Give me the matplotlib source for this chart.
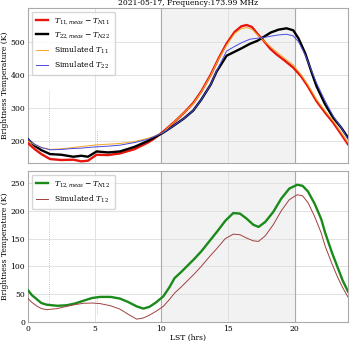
import numpy as np
import matplotlib.pyplot as plt

# top panel: LST (hrs) and brightness temperatures
lst_t11 = [0, 0.5, 1.0, 1.65, 2.5, 3.4, 4.0, 4.5, 5.15, 6.0, 6.9, 8.0, 9.0, 9.4, 10.15, 11.0, 11.7, 12.4, 13.0, 13.7, 14.3, 14.9, 15.5, 16.0, 16.4, 16.8, 17.2, 17.65, 18.2, 18.65, 19.2, 19.9, 20.5, 21.0, 21.65, 22.3, 22.9, 23.5, 24.0]
t11_meas = [193, 175, 160, 145, 142, 143, 138, 140, 158, 157, 162, 175, 195, 205, 228, 258, 285, 315, 350, 400, 450, 495, 530, 547, 551, 545, 525, 505, 478, 462, 445, 422, 395, 365, 320, 285, 255, 220, 190]
t11_sim = [200, 188, 180, 174, 176, 180, 183, 185, 188, 190, 192, 198, 208, 213, 226, 258, 285, 313, 348, 398, 448, 490, 525, 540, 543, 538, 522, 505, 485, 470, 452, 430, 400, 370, 325, 290, 260, 225, 195]

lst_t22 = [0, 0.5, 1.0, 1.65, 2.5, 3.4, 4.0, 4.5, 5.15, 6.0, 6.9, 8.0, 9.0, 10.15, 11.0, 11.7, 12.4, 13.0, 13.7, 14.15, 14.9, 15.5, 16.0, 16.65, 17.2, 17.65, 18.2, 18.8, 19.4, 19.9, 20.3, 20.8, 21.3, 21.65, 22.3, 22.9, 23.5, 24.0]
t22_meas = [205, 185, 172, 160, 158, 152, 155, 152, 168, 165, 168, 182, 200, 225, 248, 268, 292, 325, 370, 410, 458, 470, 480, 494, 503, 514, 528, 537, 541, 535, 510, 465, 405, 365, 310, 270, 240, 210]
t22_sim = [205, 190, 180, 173, 174, 177, 178, 180, 182, 184, 187, 195, 205, 225, 248, 268, 292, 325, 370, 412, 472, 486, 497, 508, 511, 513, 517, 521, 523, 518, 500, 460, 410, 375, 320, 275, 240, 205]

# bottom panel
lst_t12 = [0, 0.3, 0.7, 1.0, 1.4, 2.2, 2.9, 3.5, 4.15, 4.8, 5.4, 6.2, 6.9, 7.5, 8.15, 8.65, 9.1, 9.6, 10.15, 10.6, 11.0, 11.5, 12.0, 12.5, 13.0, 13.6, 14.2, 14.8, 15.4, 15.9, 16.4, 16.9, 17.3, 17.8, 18.4, 19.0, 19.6, 20.2, 20.6, 21.0, 21.5, 22.0, 22.3, 22.8, 23.2, 23.6, 24.0]
t12_meas = [57, 48, 40, 34, 31, 29, 30, 33, 38, 43, 45, 45, 42, 36, 28, 24, 27, 35, 46, 62, 79, 90, 102, 114, 127, 145, 163, 182, 196, 195, 186, 175, 171, 180, 198, 222, 240, 247, 245, 235, 213, 185, 160, 125, 100, 75, 55]
t12_sim = [42, 35, 28, 24, 22, 24, 28, 31, 33.5, 34, 33, 29, 23, 14, 5, 7, 12, 19, 28, 40, 52, 63, 75, 87, 100, 117, 133, 150, 158, 157, 151, 146, 145, 155, 175, 200, 220, 229, 227, 215, 190, 160, 136, 105, 82, 62, 45]

# RFI spikes: (LST, low, high)
spikes_top = [(1.6, 150, 355), (5.2, 165, 235)]
spikes_bot = [(1.6, 30, 212), (5.2, 15, 45)]

plt.rcParams['font.family'] = 'DejaVu Serif'
plt.rcParams['mathtext.fontset'] = 'dejavuserif'
plt.rcParams['font.size'] = 5.5

fig = plt.figure(figsize=(3.5, 3.41), dpi=100)
ax1 = fig.add_axes([0.08, 0.522, 0.914, 0.455])
ax2 = fig.add_axes([0.08, 0.056, 0.914, 0.443])

for ax in (ax1, ax2):
    ax.axvspan(10, 20, color='#f2f2f2', zorder=0)
    ax.axvline(10, color='#aaaaaa', lw=0.8, zorder=1)
    ax.axvline(20, color='#aaaaaa', lw=0.8, zorder=1)
    ax.grid(color='#dddddd', lw=0.6)
    ax.set_axisbelow(True)
    ax.set_xlim(0, 24)
    ax.set_xticks([0, 5, 10, 15, 20])
    for s in ax.spines.values():
        s.set_color('#aaaaaa')
        s.set_linewidth(0.8)
    ax.tick_params(length=0, pad=2, labelsize=5.5)

for x, lo, hi in spikes_top:
    ax1.vlines(x, lo, hi, color='#999999', lw=0.5, linestyles=(0, (1, 2)), zorder=2)
ax1.plot(lst_t11, t11_meas, color='#e8150f', lw=1.7, label=r'$T_{11,meas}-T_{N11}$', zorder=3)
ax1.plot(lst_t22, t22_meas, color='black', lw=1.7, label=r'$T_{22,meas}-T_{N22}$', zorder=3)
ax1.plot(lst_t11, t11_sim, color='#f5a623', lw=0.7, label=r'Simulated $T_{11}$', zorder=4)
ax1.plot(lst_t22, t22_sim, color='#4a4ae0', lw=0.7, label=r'Simulated $T_{22}$', zorder=4)
ax1.set_ylim(133, 603)
ax1.set_yticks([200, 300, 400, 500])
ax1.tick_params(labelbottom=False)
ax1.set_ylabel('Brightness Temperature (K)', fontsize=5.5, labelpad=1)
ax1.set_title('2021-05-17, Frequency:173.99 MHz', fontsize=5.5, pad=2)
ax1.legend(loc='upper left', fontsize=5.5, frameon=True, handlelength=1.5, borderpad=0.6, labelspacing=0.5)

for x, lo, hi in spikes_bot:
    ax2.vlines(x, lo, hi, color='#66bb66', lw=0.5, linestyles=(0, (1, 2)), zorder=2)
ax2.plot(lst_t12, t12_meas, color='#1a8a1a', lw=1.7, label=r'$T_{12,meas}-T_{N12}$', zorder=3)
ax2.plot(lst_t12, t12_sim, color='#a04040', lw=0.7, label=r'Simulated $T_{12}$', zorder=4)
ax2.set_ylim(0, 272)
ax2.set_yticks([0, 50, 100, 150, 200, 250])
ax2.set_ylabel('Brightness Temperature (K)', fontsize=5.5, labelpad=1)
ax2.set_xlabel('LST (hrs)', fontsize=5.5, labelpad=1)
ax2.legend(loc='upper left', fontsize=5.5, frameon=True, handlelength=1.5, borderpad=0.6, labelspacing=0.5)

fig.savefig('out.png', dpi=100)
